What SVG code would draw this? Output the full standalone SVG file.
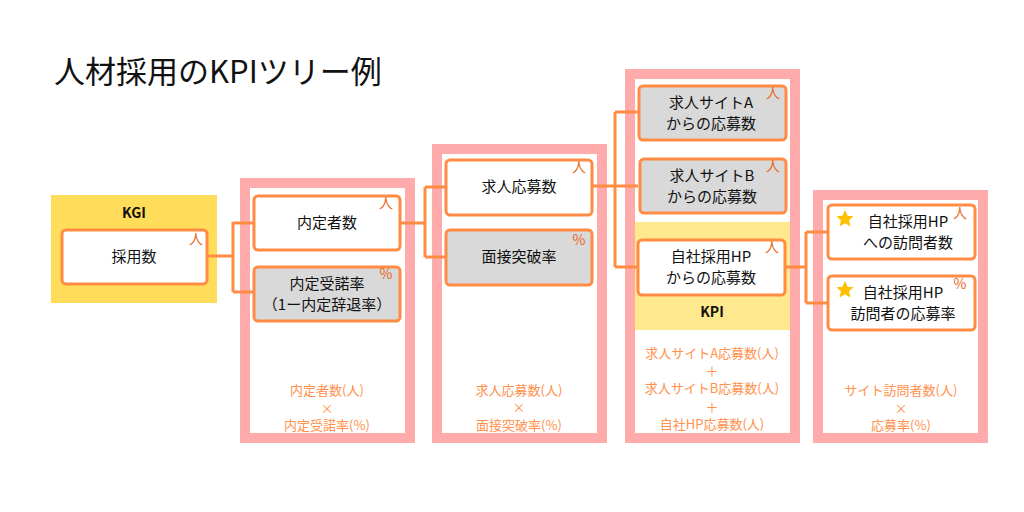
<svg xmlns="http://www.w3.org/2000/svg" width="1024" height="512" viewBox="0 0 1024 512">
<defs>
<style>
text{font-family:"Noto Sans CJK JP","Noto Sans",sans-serif;}
.title{font-size:31px;font-weight:400;fill:#111;}
.frame{fill:#fff;stroke:#FFABAB;stroke-width:10;}
.node{fill:#fff;stroke:#FF8C42;stroke-width:3;}
.gray{fill:#D9D9D9;stroke:#FF8C42;stroke-width:3;}
.lbl{font-size:15px;fill:#111;text-anchor:middle;}
.unit{font-size:14px;fill:#E8681E;text-anchor:middle;}
.f{font-size:13px;fill:#FF914D;text-anchor:middle;}
.tag{font-size:14px;font-weight:700;fill:#111;text-anchor:middle;}
.con{fill:none;stroke:#FF8C42;stroke-width:3;}
.star{fill:#FFC000;}
</style>
<path id="starShape" d="M0,-9 L2.6,-3.2 L8.6,-2.8 L4.1,1.3 L5.4,7.5 L0,4.3 L-5.4,7.5 L-4.1,1.3 L-8.6,-2.8 L-2.6,-3.2 Z"/>
</defs>
<rect width="1024" height="512" fill="#fff"/>
<text class="title" x="54" y="83">人材採用のKPIツリー例</text>

<g id="frames">
<rect class="frame" x="245" y="183" width="165" height="255"/>
<rect class="frame" x="437" y="149" width="165" height="289"/>
<rect class="frame" x="630" y="74" width="165" height="364"/>
<rect class="frame" x="818" y="195" width="165" height="243"/>
</g>

<g id="kgi">
<rect x="51" y="195" width="166" height="108" fill="#FFDC5A"/>
<text class="tag" x="134" y="218">KGI</text>
</g>
<g id="kpi">
<rect x="635" y="222" width="155" height="108" fill="#FFE98E"/>
<text class="tag" x="712" y="317">KPI</text>
</g>

<g id="connectors">
<path class="con" d="M207,256 H233 M233,222 V292 M233,223 H253 M233,292 H253"/>
<path class="con" d="M400,223 H425 M425,187 V257 M425,187 H446 M425,257 H446"/>
<path class="con" d="M592,186 H615 M615,112 V267 M615,112 H638 M615,186 H638 M615,267 H638"/>
<path class="con" d="M786,267 H806 M806,232 V303 M806,232 H827 M806,303 H827"/>
</g>

<g id="n-saiyo">
<rect class="node" x="62" y="230" width="145" height="54" rx="4"/>
<text class="lbl" x="134" y="262">採用数</text>
<text class="unit" x="196" y="244">人</text>
</g>

<g id="n-naitei">
<rect class="node" x="254" y="196" width="146" height="54" rx="4"/>
<text class="lbl" x="327" y="228">内定者数</text>
<text class="unit" x="386" y="208">人</text>
</g>
<g id="n-judaku">
<rect class="gray" x="254" y="267" width="146" height="54" rx="4"/>
<text class="lbl" x="327" y="289">内定受諾率</text>
<text class="lbl" x="327" y="310">（1ー内定辞退率）</text>
<text class="unit" x="386" y="279">%</text>
</g>
<g id="f1">
<text class="f" x="327" y="395">内定者数(人)</text>
<text class="f" x="327" y="413">×</text>
<text class="f" x="327" y="430">内定受諾率(%)</text>
</g>

<g id="n-oubo">
<rect class="node" x="446" y="160" width="146" height="55" rx="4"/>
<text class="lbl" x="519" y="192">求人応募数</text>
<text class="unit" x="579" y="172">人</text>
</g>
<g id="n-mensetsu">
<rect class="gray" x="446" y="230" width="146" height="55" rx="4"/>
<text class="lbl" x="519" y="262">面接突破率</text>
<text class="unit" x="579" y="245">%</text>
</g>
<g id="f2">
<text class="f" x="519" y="395">求人応募数(人)</text>
<text class="f" x="519" y="412">×</text>
<text class="f" x="519" y="430">面接突破率(%)</text>
</g>

<g id="n-siteA">
<rect class="gray" x="639" y="86" width="147" height="54" rx="4"/>
<text class="lbl" x="711" y="108">求人サイトA</text>
<text class="lbl" x="711" y="129">からの応募数</text>
<text class="unit" x="773" y="98">人</text>
</g>
<g id="n-siteB">
<rect class="gray" x="640" y="159" width="146" height="54" rx="4"/>
<text class="lbl" x="712" y="181">求人サイトB</text>
<text class="lbl" x="712" y="202">からの応募数</text>
<text class="unit" x="773" y="171">人</text>
</g>
<g id="n-hp">
<rect class="node" x="638" y="240" width="147" height="55" rx="4"/>
<text class="lbl" x="711" y="262">自社採用HP</text>
<text class="lbl" x="711" y="283">からの応募数</text>
<text class="unit" x="772" y="252">人</text>
</g>
<g id="f3">
<text class="f" x="712" y="358">求人サイトA応募数(人)</text>
<text class="f" x="712" y="376">＋</text>
<text class="f" x="712" y="393">求人サイトB応募数(人)</text>
<text class="f" x="712" y="412">＋</text>
<text class="f" x="712" y="429">自社HP応募数(人)</text>
</g>

<g id="n-visit">
<rect class="node" x="828" y="205" width="147" height="54" rx="4"/>
<use href="#starShape" class="star" x="845" y="219"/>
<text class="lbl" x="908" y="227">自社採用HP</text>
<text class="lbl" x="908" y="248">への訪問者数</text>
<text class="unit" x="960" y="218">人</text>
</g>
<g id="n-rate">
<rect class="node" x="828" y="276" width="147" height="54" rx="4"/>
<use href="#starShape" class="star" x="845" y="290"/>
<text class="lbl" x="903" y="298">自社採用HP</text>
<text class="lbl" x="903" y="319">訪問者の応募率</text>
<text class="unit" x="960" y="289">%</text>
</g>
<g id="f4">
<text class="f" x="901" y="395">サイト訪問者数(人)</text>
<text class="f" x="901" y="413">×</text>
<text class="f" x="901" y="430">応募率(%)</text>
</g>
</svg>
